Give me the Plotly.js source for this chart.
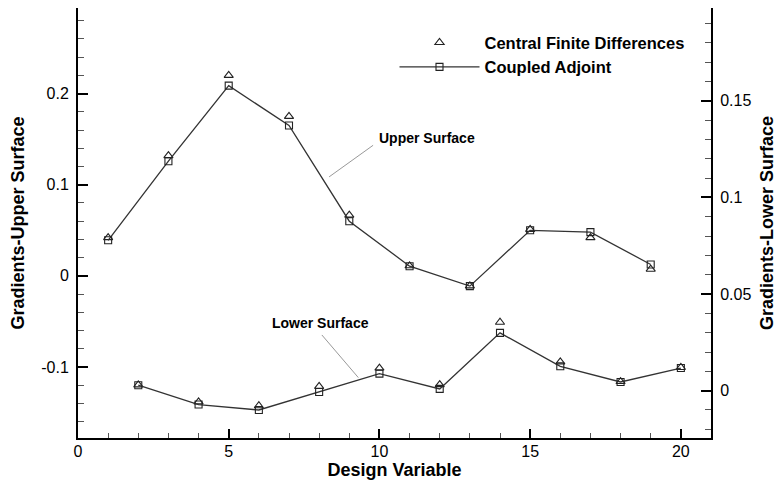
<!DOCTYPE html>
<html>
<head>
<meta charset="utf-8">
<script src="https://cdn.plot.ly/plotly-3.0.1.min.js"></script>
<style>html,body{margin:0;padding:0;background:#fff;}#chart{width:777px;height:480px;}</style>
</head>
<body>
<div id="chart"></div>
<script>
// Upper surface design variables (odd) - left axis
var xUpper = [1, 3, 5, 7, 9, 11, 13, 15, 17, 19];
var fdUpper = [0.042, 0.132, 0.220, 0.175, 0.0666, 0.011, -0.011, 0.051, 0.042, 0.0073];
var adjUpper = [0.039, 0.1258, 0.2088, 0.165, 0.060, 0.0106, -0.0113, 0.050, 0.048, 0.0125];

// Lower surface design variables (even) - right axis
var xLower = [2, 4, 6, 8, 10, 12, 14, 16, 18, 20];
var fdLower = [0.003, -0.0058, -0.0078, 0.0022, 0.0117, 0.0031, 0.0354, 0.0149, 0.0047, 0.012];
var adjLower = [0.0028, -0.0072, -0.010, -0.0007, 0.0088, 0.0009, 0.0299, 0.0126, 0.0045, 0.0117];

var seriesNames = ["Central Finite Differences", "Coupled Adjoint"];
var xTitle = "Design Variable";
var yTitle = "Gradients-Upper Surface";
var y2Title = "Gradients-Lower Surface";

var FONT = "Liberation Sans, Arial, Helvetica, sans-serif";
var lineStyle = {color: "#333", width: 1.3};
var sqMarker = {symbol: "square-open", size: 7, color: "#222", line: {width: 1.1}};
var triMarker = {symbol: "triangle-up-open", size: 8, color: "#222", line: {width: 1.1}};

var traces = [
  {x: xUpper, y: fdUpper, mode: "markers", marker: triMarker, name: seriesNames[0], legendgroup: "fd", showlegend: true, yaxis: "y"},
  {x: xUpper, y: adjUpper, mode: "lines+markers", line: lineStyle, marker: sqMarker, name: seriesNames[1], legendgroup: "adj", showlegend: true, yaxis: "y"},
  {x: xLower, y: fdLower, mode: "markers", marker: triMarker, name: seriesNames[0], legendgroup: "fd", showlegend: false, yaxis: "y2"},
  {x: xLower, y: adjLower, mode: "lines+markers", line: lineStyle, marker: sqMarker, name: seriesNames[1], legendgroup: "adj", showlegend: false, yaxis: "y2"}
];

var tickFont = {family: FONT, size: 16, color: "#000"};
var titleFont = {family: FONT, size: 18, color: "#000", weight: "bold"};

var layout = {
  width: 777, height: 480,
  margin: {l: 78, r: 66, t: 8, b: 42},
  paper_bgcolor: "#fff", plot_bgcolor: "#fff",
  font: {family: FONT, color: "#000"},
  showlegend: true,
  legend: {
    x: 0.5, xanchor: "left", y: 0.96, yanchor: "top",
    bgcolor: "rgba(0,0,0,0)", borderwidth: 0,
    itemwidth: 80,
    font: {family: FONT, size: 16.5, color: "#000", weight: "bold"},
    tracegroupgap: 0
  },
  xaxis: {
    range: [0, 21], showgrid: false, zeroline: false,
    showline: true, linecolor: "#000", linewidth: 2, mirror: false,
    tickmode: "array", tickvals: [0, 5, 10, 15, 20],
    ticks: "inside", ticklen: 9, tickwidth: 2, tickcolor: "#000",
    minor: {dtick: 1, ticks: "inside", ticklen: 5, tickwidth: 1, tickcolor: "#555", showgrid: false},
    tickfont: tickFont, ticklabelstandoff: -2,
    title: {text: xTitle, font: titleFont, standoff: 8}
  },
  yaxis: {
    range: [-0.178, 0.294], showgrid: false, zeroline: false,
    showline: true, linecolor: "#000", linewidth: 2,
    tickmode: "array", tickvals: [-0.1, 0, 0.1, 0.2], ticktext: ["-0.1", "0", "0.1", "0.2"],
    ticks: "inside", ticklen: 10, tickwidth: 2, tickcolor: "#000",
    minor: {dtick: 0.02, tick0: 0, ticks: "inside", ticklen: 6, tickwidth: 1, tickcolor: "#555", showgrid: false},
    tickfont: tickFont, ticklabelstandoff: 4,
    title: {text: yTitle, font: titleFont, standoff: 12}
  },
  yaxis2: {
    overlaying: "y", side: "right",
    range: [-0.0245, 0.198], showgrid: false, zeroline: false,
    showline: true, linecolor: "#000", linewidth: 2,
    tickmode: "array", tickvals: [0, 0.05, 0.1, 0.15], ticktext: ["0", "0.05", "0.1", "0.15"],
    ticks: "inside", ticklen: 10, tickwidth: 2, tickcolor: "#000",
    minor: {dtick: 0.01, tick0: 0, ticks: "inside", ticklen: 6, tickwidth: 1, tickcolor: "#555", showgrid: false},
    tickfont: tickFont, ticklabelstandoff: 4,
    title: {text: y2Title, font: titleFont, standoff: 10}
  },
  annotations: [
    {x: 11.57, y: 0.1513, xref: "x", yref: "y", text: "Upper Surface", showarrow: false,
     font: {family: FONT, size: 14, color: "#000", weight: "bold"}},
    {x: 8.05, y: -0.0522, xref: "x", yref: "y", text: "Lower Surface", showarrow: false,
     font: {family: FONT, size: 14, color: "#000", weight: "bold"}}
  ],
  shapes: [
    {type: "line", xref: "x", yref: "y", x0: 8.33, y0: 0.1086, x1: 9.79, y1: 0.1433, line: {color: "#999", width: 1}},
    {type: "line", xref: "x", yref: "y", x0: 8.09, y0: -0.0649, x1: 9.30, y1: -0.1117, line: {color: "#999", width: 1}}
  ]
};

Plotly.newPlot("chart", traces, layout, {displayModeBar: false, staticPlot: true});
</script>
</body>
</html>
